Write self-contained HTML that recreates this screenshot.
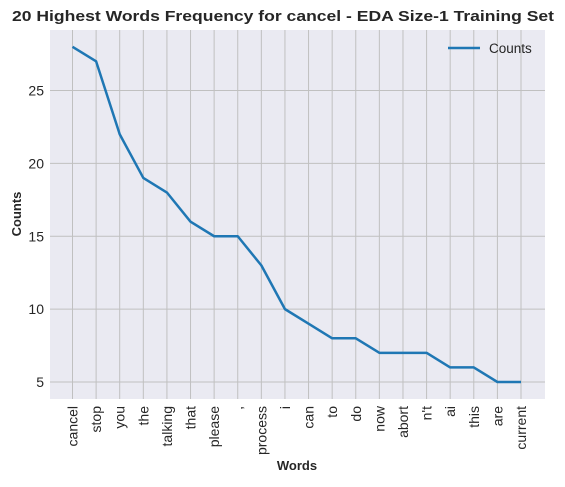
<!DOCTYPE html>
<html><head><meta charset="utf-8"><style>
body{margin:0;background:#fff;font-family:"Liberation Sans",Arial,sans-serif}
svg text{font-family:"Liberation Sans",Arial,sans-serif;fill:#262626}
</style></head><body>
<svg id="chart" width="565" height="482" xmlns="http://www.w3.org/2000/svg">
<text x="283" y="21" text-anchor="middle" font-size="15" font-weight="bold" textLength="542" lengthAdjust="spacingAndGlyphs">20 Highest Words Frequency for cancel - EDA Size-1 Training Set</text>
<rect x="50" y="30" width="495" height="369" fill="#eaeaf2"/>
<g id="grid"></g><g id="xt"></g><g id="yt"></g>
<polyline id="line" fill="none" stroke="#1f77b4" stroke-width="2.5" stroke-linejoin="round"/>
<text x="297" y="470" text-anchor="middle" font-size="13" font-weight="bold">Words</text>
<text transform="translate(21,214) rotate(-90)" text-anchor="middle" font-size="13" font-weight="bold">Counts</text>
<g>
<line x1="448" y1="48" x2="480" y2="48" stroke="#1f77b4" stroke-width="2.5"/>
<text x="489" y="53" font-size="13.5">Counts</text>
</g>
</svg>
<script>
const words=["cancel","stop","you","the","talking","that","please",",","process","i","can","to","do","now","abort","n't","ai","this","are","current"];
const counts=[28,27,22,19,18,16,15,15,13,10,9,8,8,7,7,7,6,6,5,5];
const yTicks=[5,10,15,20,25];
const NS="http://www.w3.org/2000/svg";
const xs=i=>72.5+i*(521-72.5)/(words.length-1);
const ys=v=>382-(v-5)*(382-90.5)/20;
const grid=document.getElementById('grid'),xt=document.getElementById('xt'),yt=document.getElementById('yt');
function mk(t,a,p){const e=document.createElementNS(NS,t);for(const k in a)e.setAttribute(k,a[k]);p.appendChild(e);return e;}
words.forEach((w,i)=>{
 const l=mk('line',{x1:xs(i),x2:xs(i),y1:30,y2:399,stroke:'#c0c0c0','stroke-width':1},grid);
 
 
 const t=mk('text',{transform:`translate(${xs(i)+5},406) rotate(-90)`,'text-anchor':'end','font-size':14},xt);
 t.textContent=w;
 
 
});
yTicks.forEach(v=>{
 const l=mk('line',{x1:50,x2:545,y1:ys(v),y2:ys(v),stroke:'#c0c0c0','stroke-width':1},grid);
 
 
 const t=mk('text',{x:44,y:ys(v)+5,'text-anchor':'end','font-size':14},yt);
 t.textContent=v;
 
 
});
document.getElementById('line').setAttribute('points',counts.map((c,i)=>xs(i)+','+ys(c)).join(' '));
</script>
</body></html>
